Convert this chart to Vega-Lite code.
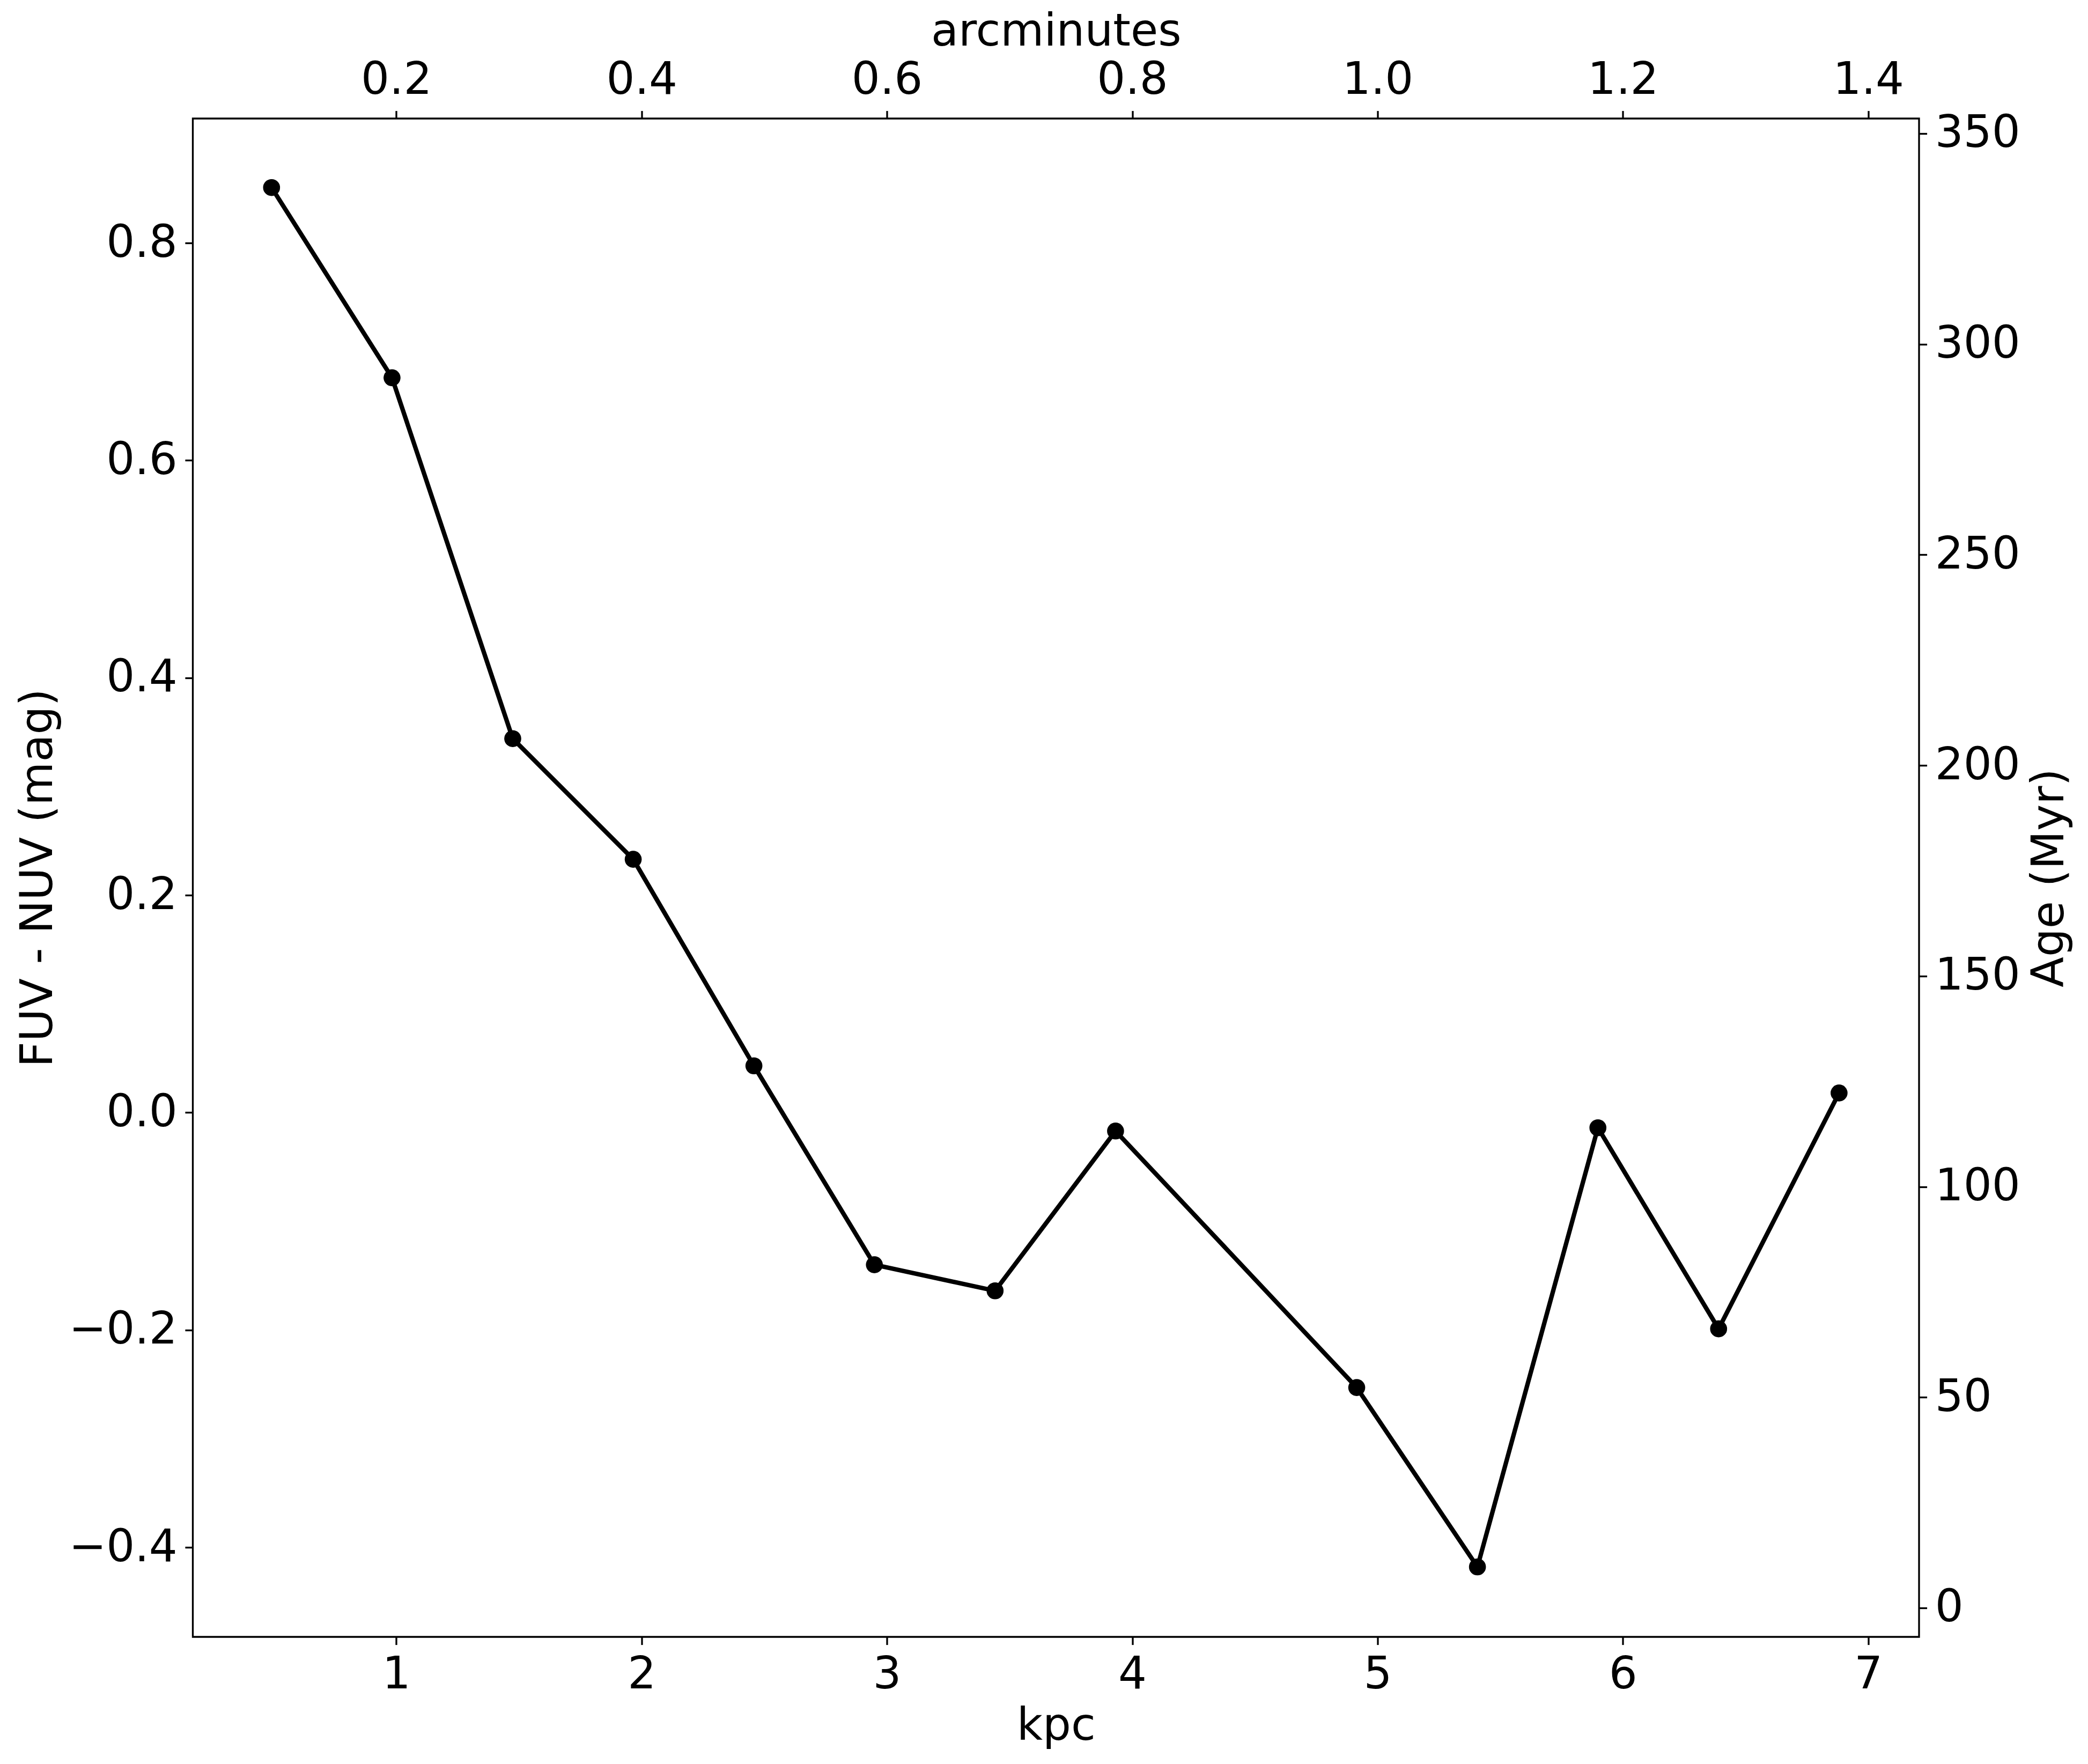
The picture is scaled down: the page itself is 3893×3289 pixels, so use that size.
{
  "$schema": "https://vega.github.io/schema/vega-lite/v6.json",
  "width": 3218.5,
  "height": 2831,
  "autosize": {"type": "none"},
  "padding": {"left": 359.5, "top": 221, "right": 315, "bottom": 237},
  "background": "white",
  "config": {
    "view": {"stroke": "black", "strokeWidth": 3.33},
    "axis": {
      "domain": false,
      "grid": false,
      "ticks": true,
      "tickColor": "black",
      "tickWidth": 3.33,
      "tickSize": 14.58,
      "labelPadding": 14.58,
      "labelFont": "DejaVu Sans",
      "labelFontSize": 83.33,
      "labelColor": "black",
      "labelFlush": false,
      "labelOverlap": false,
      "labelLimit": 0,
      "titleFont": "DejaVu Sans",
      "titleFontSize": 83.33,
      "titleFontWeight": "normal",
      "titleColor": "black",
      "titleLimit": 0
    }
  },
  "datasets": {
    "profile": [
      {"kpc": 0.492, "mag": 0.851},
      {"kpc": 0.983, "mag": 0.676},
      {"kpc": 1.475, "mag": 0.344},
      {"kpc": 1.966, "mag": 0.233},
      {"kpc": 2.458, "mag": 0.043},
      {"kpc": 2.949, "mag": -0.140},
      {"kpc": 3.441, "mag": -0.164},
      {"kpc": 3.932, "mag": -0.017},
      {"kpc": 4.915, "mag": -0.253},
      {"kpc": 5.407, "mag": -0.418},
      {"kpc": 5.898, "mag": -0.014},
      {"kpc": 6.390, "mag": -0.199},
      {"kpc": 6.881, "mag": 0.018}
    ],
    "frame": [
      {"arcmin": 0.2, "age": 0},
      {"arcmin": 1.4, "age": 350}
    ]
  },
  "layer": [
    {
      "data": {"name": "profile"},
      "encoding": {
        "x": {
          "field": "kpc", "type": "quantitative",
          "scale": {"domain": [0.171, 7.207], "nice": false, "zero": false},
          "axis": {"orient": "bottom", "title": "kpc", "values": [1, 2, 3, 4, 5, 6, 7], "format": "d", "titlePadding": 14}
        },
        "y": {
          "field": "mag", "type": "quantitative",
          "scale": {"domain": [-0.4824, 0.9145], "nice": false, "zero": false},
          "axis": {"orient": "left", "title": "FUV - NUV (mag)", "values": [-0.4, -0.2, 0, 0.2, 0.4, 0.6, 0.8], "format": ".1f", "titlePadding": 46}
        }
      },
      "layer": [
        {"mark": {"type": "line", "color": "black", "strokeWidth": 8.3}},
        {"mark": {"type": "circle", "color": "black", "opacity": 1, "size": 1000}}
      ]
    },
    {
      "data": {"name": "frame"},
      "mark": {"type": "point", "opacity": 0},
      "encoding": {
        "x": {
          "field": "arcmin", "type": "quantitative",
          "scale": {"domain": [0.0342, 1.4414], "nice": false, "zero": false},
          "axis": {"orient": "top", "title": "arcminutes", "values": [0.2, 0.4, 0.6, 0.8, 1.0, 1.2, 1.4], "format": ".1f", "titlePadding": 6}
        },
        "y": {
          "field": "age", "type": "quantitative",
          "scale": {"domain": [-6.88, 353.56], "nice": false, "zero": false},
          "axis": {"orient": "right", "title": "Age (Myr)", "values": [0, 50, 100, 150, 200, 250, 300, 350], "format": "d", "titleAngle": 270, "titleBaseline": "top", "titlePadding": 14}
        }
      }
    }
  ],
  "resolve": {"scale": {"x": "independent", "y": "independent"}}
}
